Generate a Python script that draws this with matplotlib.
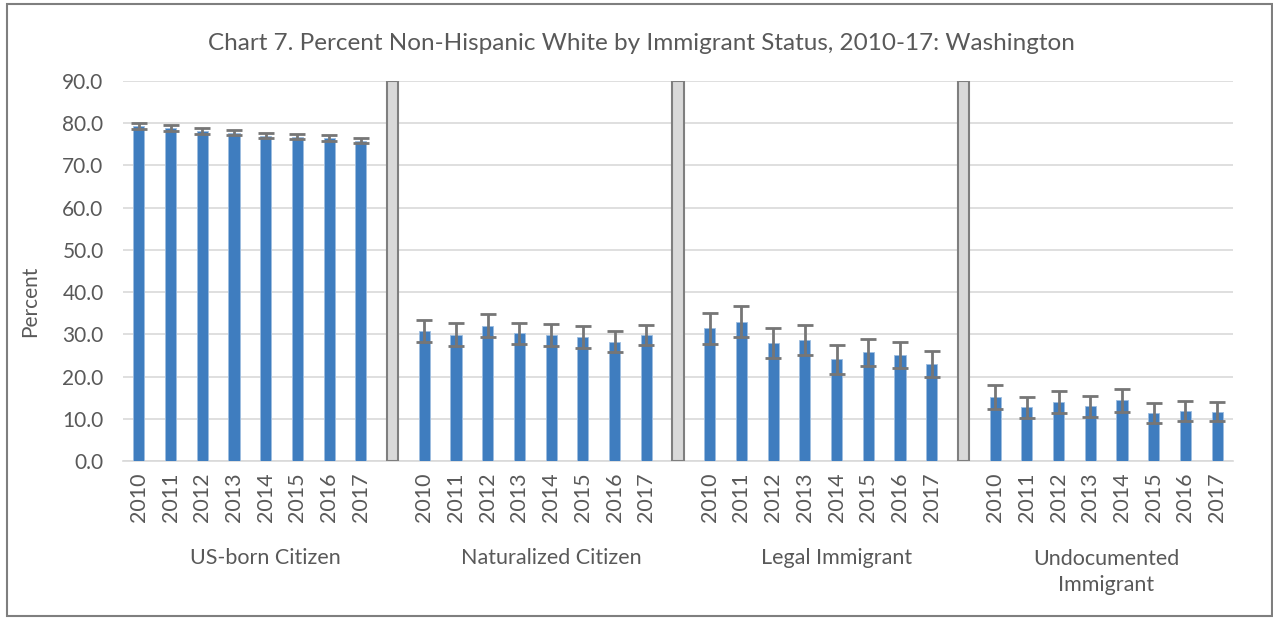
import numpy as np
import matplotlib.pyplot as plt
from matplotlib.patches import Rectangle

plt.rcParams['font.family'] = ['Lato', 'DejaVu Sans']

years = ['2010', '2011', '2012', '2013', '2014', '2015', '2016', '2017']
groups = ['US-born Citizen', 'Naturalized Citizen', 'Legal Immigrant', 'Undocumented\nImmigrant']

us_born = [79.3, 78.8, 78.2, 77.8, 77.0, 76.8, 76.5, 75.9]
us_born_err = [0.7, 0.7, 0.7, 0.7, 0.6, 0.6, 0.7, 0.7]
naturalized = [30.8, 29.9, 32.0, 30.2, 29.8, 29.4, 28.3, 29.8]
naturalized_err = [2.7, 2.7, 2.7, 2.6, 2.6, 2.6, 2.5, 2.4]
legal = [31.4, 33.0, 28.0, 28.7, 24.1, 25.7, 25.1, 23.0]
legal_err = [3.7, 3.7, 3.6, 3.6, 3.4, 3.2, 3.1, 3.1]
undocumented = [15.2, 12.7, 14.0, 13.0, 14.4, 11.4, 11.8, 11.7]
undocumented_err = [2.8, 2.5, 2.6, 2.5, 2.7, 2.4, 2.4, 2.3]

series = [(us_born, us_born_err), (naturalized, naturalized_err),
          (legal, legal_err), (undocumented, undocumented_err)]

W, H = 1273, 618
fig = plt.figure(figsize=(W / 100, H / 100), dpi=100)
fig.patch.set_facecolor('white')

# outer border
fig.add_artist(Rectangle((7 / W, 1 - 616 / H), (1272 - 7) / W, (616 - 4) / H,
                         transform=fig.transFigure, fill=False,
                         edgecolor='#7f7f7f', linewidth=1.5))

ax = fig.add_axes([123 / W, 1 - 461 / H, (1233 - 123) / W, (461 - 81) / H])

blue = '#3f7dbf'
gray_txt = '#595959'

# each group uses 9 slots: 8 years + 1 separator (last group has no separator)
xticks = []
xlabels = []
for g, (vals, errs) in enumerate(series):
    x = np.arange(8) + g * 9
    ax.bar(x, vals, width=0.35, color=blue, edgecolor='#9dbde0', linewidth=0.6, zorder=3)
    ax.errorbar(x, vals, yerr=errs, fmt='none', ecolor='#767676', elinewidth=2,
                capsize=5.5, capthick=2, zorder=4)
    xticks.extend(x)
    xlabels.extend(years)
    if g < 3:
        ax.bar(g * 9 + 8, 90, width=0.35, color='#d9d9d9', edgecolor='#7f7f7f',
               linewidth=1.5, zorder=3)
    center = g * 9 + (3.5 if g == 3 else 4)
    ypos = 1 - (558 - 81) / 380 if g < 3 else 1 - (572 - 81) / 380
    ax.text(center, ypos, groups[g], transform=ax.get_xaxis_transform(),
            ha='center', va='center', fontsize=15.5, color=gray_txt, linespacing=1.35)

ax.set_xlim(-0.5, 34.5)
ax.set_ylim(0, 90)
ax.set_yticks(np.arange(0, 91, 10))
ax.set_yticklabels([f'{v:.1f}' for v in np.arange(0, 91, 10)])
ax.set_xticks(xticks)
ax.set_xticklabels(xlabels, rotation=90)
ax.tick_params(axis='x', length=0, pad=8, labelsize=15.5, labelcolor=gray_txt)
ax.tick_params(axis='y', length=0, pad=14, labelsize=15, labelcolor=gray_txt)
ax.grid(axis='y', color='#d9d9d9', linewidth=1.2, zorder=0)
ax.set_axisbelow(True)
for s in ['top', 'right', 'left']:
    ax.spines[s].set_visible(False)
ax.spines['bottom'].set_color('#d9d9d9')
ax.spines['bottom'].set_linewidth(1.2)

ax.set_ylabel('Percent', fontsize=15, color=gray_txt)
ax.yaxis.set_label_coords((40 - 123) / (1233 - 123), 1 - (301 - 81) / 380)

fig.text(641 / W, 1 - 43 / H, 'Chart 7. Percent Non-Hispanic White by Immigrant Status, 2010-17: Washington',
         ha='center', va='center', fontsize=17.5, color=gray_txt)

fig.savefig('out.png', dpi=100)
